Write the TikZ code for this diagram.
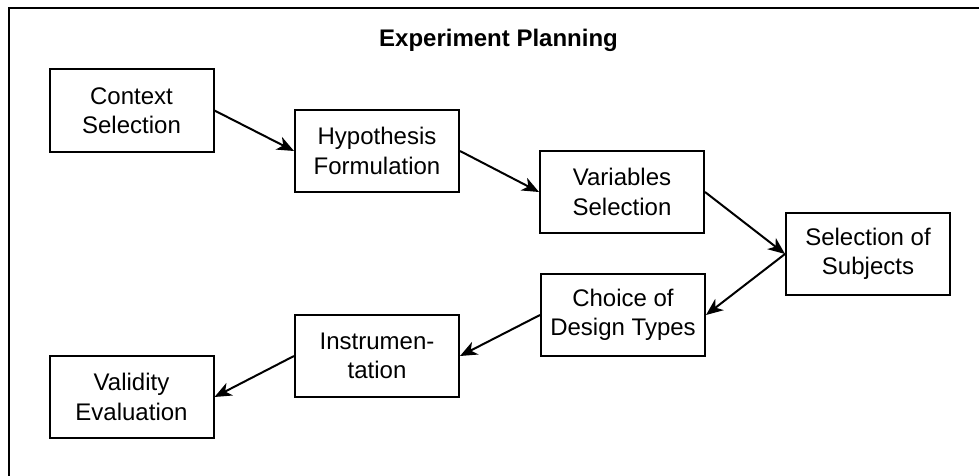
\documentclass[tikz,border=0pt]{standalone}
\usepackage{fontspec}
\setmainfont{Liberation Sans}
\usetikzlibrary{arrows.meta}
\begin{document}
\begin{tikzpicture}[x=1pt,y=-1pt,
  stepbox/.style={draw=black,line width=2pt,fill=white,minimum width=164pt,minimum height=82pt,
    inner sep=0pt,align=center,font=\fontsize{24}{29.5}\selectfont},
  flow/.style={line width=2pt,-{Stealth[length=17pt,width=14pt,inset=5pt]}},
  frame/.style={line width=2.4pt}]
\useasboundingbox (0,0) rectangle (979,476);
\clip (0,0) rectangle (979,476);
% container frame, partly outside the page
\draw[frame] (9,8) rectangle (995,495);
\node[font=\fontsize{24}{29}\selectfont\bfseries,anchor=base] (title) at (498.5,47) {Experiment Planning};
% planning steps
\node[stepbox] (ctx)   at (131.5,110.5) {Context\\Selection};
\node[stepbox] (hyp)   at (377,151)     {Hypothesis\\Formulation};
\node[stepbox] (vars)  at (622,192)     {Variables\\Selection};
\node[stepbox] (subj)  at (868,254)     {Selection of\\Subjects};
\node[stepbox] (dsgn)  at (623,315)     {Choice of\\Design Types};
\node[stepbox] (instr) at (377,356)     {Instrumen-\\tation};
\node[stepbox] (valid) at (131.5,397)   {Validity\\Evaluation};
% sequence of steps
\draw[flow] (ctx.east)   -- (hyp.west);
\draw[flow] (hyp.east)   -- (vars.west);
\draw[flow] (vars.east)  -- (subj.west);
\draw[flow] (subj.west)  -- (dsgn.east);
\draw[flow] (dsgn.west)  -- (instr.east);
\draw[flow] (instr.west) -- (valid.east);
\end{tikzpicture}
\end{document}
